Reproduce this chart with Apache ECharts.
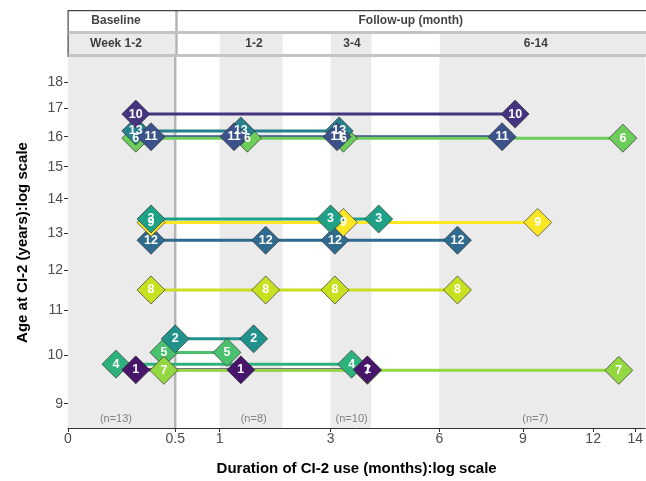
<!DOCTYPE html>
<html><head><meta charset="utf-8">
<script src="https://cdn.jsdelivr.net/npm/echarts@6/dist/echarts.min.js"></script>
<style>html,body{margin:0;padding:0;background:#fff}#c{width:646px;height:481px}</style>
</head><body><div id="c"></div>
<script>
// ---- data ----
const patientIds   = [1, 10, 11, 12, 13, 2, 3, 4, 5, 6, 7, 8, 9];          // factor-level order
const patientAges  = [9.68, 16.8, 16.0, 12.8, 16.2, 10.35, 13.4, 9.8, 10.05, 15.95, 9.67, 11.5, 13.3];
const visitMonths  = [
  [0.2, 1.3, 3.9],        // 1
  [0.2, 8.7],             // 10
  [0.3, 1.2, 3.15, 8.2],  // 11
  [0.3, 1.7, 3.1, 6.6],   // 12
  [0.2, 1.3, 3.2],        // 13
  [0.5, 1.5],             // 2
  [0.3, 3.0, 4.2],        // 3
  [0.1, 3.5],             // 4
  [0.4, 1.1],             // 5
  [0.2, 1.4, 3.3, 13.4],  // 6
  [0.4, 3.9, 13.2],       // 7
  [0.3, 1.7, 3.1, 6.6],   // 8
  [0.3, 3.3, 9.6]         // 9
];
const patientColors = ['#47166b', '#453581', '#3b528b', '#2f6b8e', '#27808e', '#21918c',
                       '#1fa187', '#2db27d', '#4ac16d', '#6ccd5a', '#93d741', '#c8e020', '#fde725'];
const pointDrawOrder = [5, 2, 7, 4, 1, 8, 12, 9, 3, 6, 13, 11, 10];
const xTickMonths = [0, 0.5, 1, 3, 6, 9, 12, 14];
const yTickAges   = [9, 10, 11, 12, 13, 14, 15, 16, 17, 18];
const bandRanges  = [[0, 0.5], [1, 2], [3, 4], [6, 14]];
const bandHeaders = ['Week 1-2', '1-2', '3-4', '6-14'];
const bandCounts  = ['(n=13)', '(n=8)', '(n=10)', '(n=7)'];
const bandLabelMonths = [0.1, 1.5, 3.5, 9.5];
const phaseHeaders = ['Baseline', 'Follow-up (month)'];
const phaseLabelMonths = [0.1, 5.1];
const baselineEnd = 0.5;
const xMaxMonths = 14.5;
const yMinAge = 8.54, yMaxAge = 19.0;

// ---- scales: sqrt for duration, log for age ----
const sx = m => Math.sqrt(m);
const sy = a => Math.log(a);
const FONT = 'Liberation Sans, Arial, sans-serif';
const bandHi = hi => (hi === 14 ? xMaxMonths : hi);
const SEP = '#b5b5b5';

const chart = echarts.init(document.getElementById('c'), null, {renderer: 'canvas'});

const grids = [
  {left: 68, right: 0, top: 11, height: 20},
  {left: 68, right: 0, top: 34, height: 20},
  {left: 68, right: 0, top: 57, bottom: 52}
];
const xAxes = [0, 1].map(g => ({gridIndex: g, type: 'value', min: 0, max: sx(xMaxMonths), show: false}))
  .concat([{
    gridIndex: 2, type: 'value', min: 0, max: sx(xMaxMonths),
    axisLine: {show: true, lineStyle: {color: '#333', width: 1}},
    axisTick: {show: true, length: 4, customValues: xTickMonths.map(sx), lineStyle: {color: '#333', width: 1}},
    axisLabel: {show: true, customValues: xTickMonths.map(sx), color: '#4d4d4d', fontSize: 14, margin: 4, fontFamily: FONT,
      formatter: v => String(Math.round(v * v * 10) / 10)},
    splitLine: {show: false},
    name: 'Duration of CI-2 use (months):log scale', nameLocation: 'middle', nameGap: 33,
    nameTextStyle: {fontSize: 15, fontWeight: 'bold', color: '#000', fontFamily: FONT}
  }]);
const yAxes = [0, 1].map(g => ({gridIndex: g, type: 'value', min: 0, max: 1, show: false}))
  .concat([{
    gridIndex: 2, type: 'value', min: sy(yMinAge), max: sy(yMaxAge),
    axisLine: {show: true, lineStyle: {color: '#333', width: 1}},
    axisTick: {show: true, length: 4, customValues: yTickAges.map(sy), lineStyle: {color: '#333', width: 1}},
    axisLabel: {show: true, customValues: yTickAges.map(sy), color: '#4d4d4d', fontSize: 14, margin: 5, fontFamily: FONT,
      formatter: v => String(Math.round(Math.exp(v)))},
    splitLine: {show: false},
    name: 'Age at CI-2 (years):log scale', nameLocation: 'middle', nameGap: 38, nameRotate: 90,
    nameTextStyle: {fontSize: 15, fontWeight: 'bold', color: '#000', fontFamily: FONT}
  }]);

const series = [];
const vline = {symbol: 'none', silent: true, label: {show: false},
  lineStyle: {color: SEP, width: 2.5, type: 'solid'}, data: [{xAxis: sx(baselineEnd)}]};
// header row 1
series.push({type: 'scatter', xAxisIndex: 0, yAxisIndex: 0, symbolSize: 0, silent: true, z: 5,
  data: phaseHeaders.map((t, i) => ({name: t, value: [sx(phaseLabelMonths[i]), 0.5]})),
  label: {show: true, position: 'inside', formatter: '{b}', color: '#111', fontWeight: 'bold', fontSize: 12, fontFamily: FONT},
  markLine: vline});
// header row 2
series.push({type: 'scatter', xAxisIndex: 1, yAxisIndex: 1, symbolSize: 0, silent: true, z: 5,
  data: bandHeaders.map((t, i) => ({name: t, value: [sx(bandLabelMonths[i]), 0.5]})),
  label: {show: true, position: 'inside', formatter: '{b}', color: '#111', fontWeight: 'bold', fontSize: 12, fontFamily: FONT},
  markArea: {silent: true, itemStyle: {color: '#ebebeb'},
    data: bandRanges.map(([lo, hi]) => [{xAxis: sx(lo)}, {xAxis: sx(bandHi(hi))}])},
  markLine: vline});
// main panel bands + counts
series.push({type: 'scatter', xAxisIndex: 2, yAxisIndex: 2, symbolSize: 0, silent: true, z: 1, clip: false,
  data: bandCounts.map((t, i) => ({name: t, value: [sx(bandLabelMonths[i]), sy(yMinAge)]})),
  label: {show: true, position: 'top', distance: 4, formatter: '{b}', color: '#666', fontSize: 11, fontFamily: FONT},
  markArea: {silent: true, itemStyle: {color: '#ebebeb'},
    data: bandRanges.map(([lo, hi]) => [{xAxis: sx(lo)}, {xAxis: sx(bandHi(hi))}])}});
// baseline divider in the main panel (behind marks)
series.push({type: 'line', xAxisIndex: 2, yAxisIndex: 2, silent: true, z: 2, showSymbol: false, symbol: 'none',
  data: [[sx(baselineEnd), sy(yMinAge)], [sx(baselineEnd), sy(yMaxAge)]],
  lineStyle: {color: SEP, width: 2.5}});
// trajectories
patientIds.forEach((id, i) => {
  series.push({type: 'line', xAxisIndex: 2, yAxisIndex: 2, silent: true, z: 3, showSymbol: false, symbol: 'none',
    data: visitMonths[i].map(m => [sx(m), sy(patientAges[i])]),
    lineStyle: {color: patientColors[i], width: 3}});
});
// visits
pointDrawOrder.forEach(id => {
  const i = patientIds.indexOf(id);
  series.push({type: 'scatter', xAxisIndex: 2, yAxisIndex: 2, silent: true, z: 4,
    symbol: 'diamond', symbolSize: 28,
    data: visitMonths[i].map(m => [sx(m), sy(patientAges[i])]),
    itemStyle: {color: patientColors[i], borderColor: '#333', borderWidth: 0.7, opacity: 1},
    label: {show: true, position: 'inside', formatter: String(id), color: '#fff', fontWeight: 'bold', fontSize: 12.5, fontFamily: FONT}});
});

chart.setOption({
  animation: false,
  backgroundColor: '#fff',
  textStyle: {fontFamily: FONT},
  grid: grids, xAxis: xAxes, yAxis: yAxes, series: series,
  graphic: [
    {type: 'rect', silent: true, z: 100, shape: {x: 68, y: 10, width: 578, height: 1.3}, style: {fill: '#444'}},
    {type: 'rect', silent: true, z: 100, shape: {x: 67.5, y: 10, width: 1.2, height: 47}, style: {fill: '#444'}},
    {type: 'rect', silent: true, z: 100, shape: {x: 68.5, y: 31, width: 578, height: 3}, style: {fill: '#c4c4c4'}},
    {type: 'rect', silent: true, z: 100, shape: {x: 68.5, y: 54, width: 578, height: 3}, style: {fill: '#c4c4c4'}}
  ]
});
</script></body></html>
